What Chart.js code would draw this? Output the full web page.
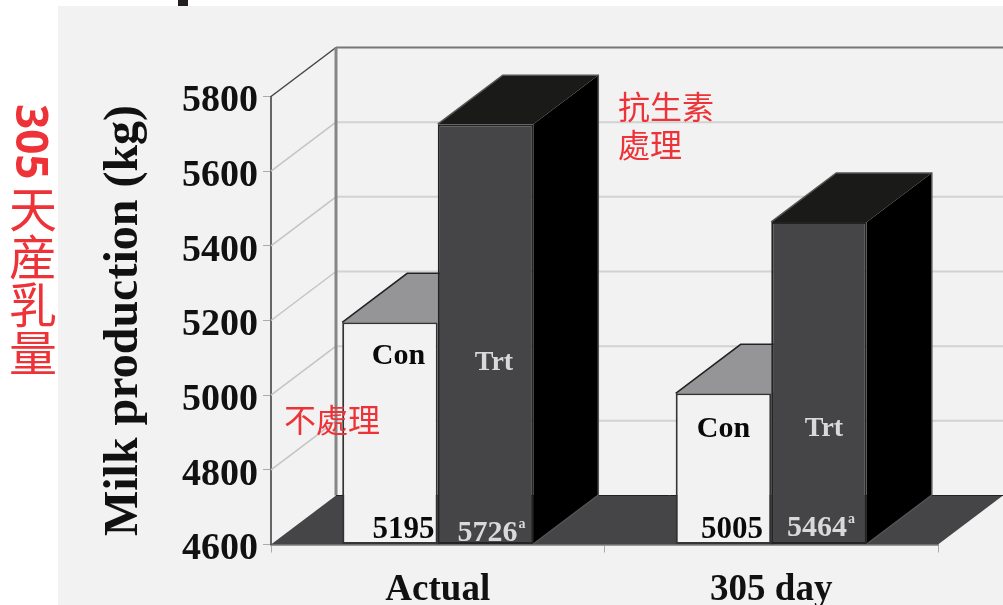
<!DOCTYPE html>
<html>
<head>
<meta charset="utf-8">
<title>Milk production</title>
<script src="https://cdn.jsdelivr.net/npm/chart.js@4"></script>
<style>
    body { margin: 0; background: #fff; overflow: hidden; }
    #panel { position: absolute; left: 58px; top: 6px; right: 0; bottom: 0; background: #f2f2f2; }
    #stub { position: absolute; left: 178px; top: 0; width: 10px; height: 6px; background: #231f20; }
    #myChart { position: absolute; left: 0; top: 0; }
    .note { position: absolute; color: #ee3338; font-family: "Noto Sans CJK TC", sans-serif; font-size: 32px; line-height: 38px; white-space: nowrap; }
    #side-note { left: 9px; top: 104px; font-size: 48px; line-height: 48px; writing-mode: vertical-rl; }
    #side-note b { font-family: "Noto Sans", sans-serif; font-size: 44px; margin-bottom: 5px; display: inline-block; }
</style>
</head>
<body>
<div id="panel"></div>
<div id="stub"></div>
<canvas id="myChart" width="1003" height="605"></canvas>
<div class="note" id="side-note"><b>305</b>天産乳量</div>
<div class="note" style="left:618px;top:86px">抗生素<br>處理</div>
<div class="note" style="left:284px;top:399px">不處理</div>
<script>
const categories = ["Actual", "305 day"];
const conValues = [5195, 5005];
const trtValues = [5726, 5464];
const yTickValues = [4600, 4800, 5000, 5200, 5400, 5600, 5800];
const yTitle = "Milk production (kg)";
const barNames = ["Con", "Trt"];

// how far the back of the box sits from the front
const depthX = 65;
const depthY = -49;

const serif = "'Liberation Serif', serif";

function line(ctx, points, color, width) {
    ctx.beginPath();
    points.forEach((p, i) => i ? ctx.lineTo(p[0], p[1]) : ctx.moveTo(p[0], p[1]));
    ctx.strokeStyle = color;
    ctx.lineWidth = width;
    ctx.stroke();
}

function poly(ctx, points, color) {
    ctx.beginPath();
    points.forEach((p, i) => i ? ctx.lineTo(p[0], p[1]) : ctx.moveTo(p[0], p[1]));
    ctx.closePath();
    ctx.fillStyle = color;
    ctx.fill();
}

function drawBox(ctx, bar, topColor, sideColor, edgeColor) {
    const l = bar.x - bar.width / 2, r = bar.x + bar.width / 2;
    poly(ctx, [[r, bar.base], [r + depthX, bar.base + depthY], [r + depthX, bar.y + depthY], [r, bar.y]], sideColor);
    poly(ctx, [[l, bar.y], [l + depthX, bar.y + depthY], [r + depthX, bar.y + depthY], [r, bar.y]], topColor);
    line(ctx, [[l, bar.y], [l + depthX, bar.y + depthY], [r + depthX, bar.y + depthY], [r + depthX, bar.base + depthY], [r, bar.base]], edgeColor, 1.5);
}

// walls, floor and the sides of the bars go under the bar fronts
const walls = {
    id: "walls",
    beforeDatasetsDraw(chart) {
        const ctx = chart.ctx;
        const area = chart.chartArea;
        const y = chart.scales.y;
        ctx.save();
        yTickValues.forEach(v => {
            const py = y.getPixelForValue(v);
            if (v === y.min) return;
            const top = v === y.max;
            line(ctx, [[area.left, py], [area.left + depthX, py + depthY]], top ? "#444" : "#c4c4c4", 1.5);
            line(ctx, [[area.left + depthX, py + depthY], [area.right + depthX, py + depthY]], top ? "#777" : "#d2d2d2", 2);
        });
        line(ctx, [[area.left + depthX, area.top + depthY], [area.left + depthX, area.bottom + depthY]], "#858585", 3);
        poly(ctx, [[area.left, area.bottom], [area.left + depthX, area.bottom + depthY], [area.right + depthX, area.bottom + depthY], [area.right, area.bottom]], "#454547");
        line(ctx, [[area.left + depthX, area.bottom + depthY], [area.right + depthX, area.bottom + depthY]], "#222", 1);

        const con = chart.getDatasetMeta(0).data;
        const trt = chart.getDatasetMeta(1).data;
        con.forEach((bar, i) => {
            drawBox(ctx, bar, "#959598", "#6a6a6c", "#222");
            drawBox(ctx, trt[i], "#1a1a18", "#000", "#555");
        });
        ctx.restore();
    },
    afterDatasetsDraw(chart) {
        const ctx = chart.ctx;
        const bottom = chart.chartArea.bottom;
        const con = chart.getDatasetMeta(0).data;
        const trt = chart.getDatasetMeta(1).data;
        // label offsets from the bar centre and the axis line
        const conName = [[8.5, -181], [0, -108]];
        const trtName = [[8.5, -175], [5, -109]];
        const conNum = [[13.5, -7], [8.5, -7]];
        const trtNum = [[2, -4], [-2, -9]];
        ctx.save();
        ctx.textAlign = "center";
        ctx.textBaseline = "alphabetic";
        categories.forEach((c, i) => {
            ctx.fillStyle = "#0a0a0a";
            ctx.font = "bold 30px " + serif;
            ctx.fillText(barNames[0], con[i].x + conName[i][0], bottom + conName[i][1]);
            ctx.font = "bold 31px " + serif;
            ctx.fillText(String(conValues[i]), con[i].x + conNum[i][0], bottom + conNum[i][1]);

            ctx.fillStyle = "#d9d9d9";
            ctx.font = "bold 28px " + serif;
            ctx.fillText(barNames[1], trt[i].x + trtName[i][0], bottom + trtName[i][1]);
            ctx.font = "bold 30px " + serif;
            const num = String(trtValues[i]);
            const nx = trt[i].x + trtNum[i][0];
            const ny = bottom + trtNum[i][1];
            const numWidth = ctx.measureText(num).width;
            ctx.fillText(num, nx, ny);
            ctx.font = "bold 14px " + serif;
            ctx.textAlign = "left";
            ctx.fillText("a", nx + numWidth / 2 + 1, ny - 13);
            ctx.textAlign = "center";
        });
        ctx.restore();
    }
};

const ctx = document.getElementById("myChart").getContext("2d");
const myChart = new Chart(ctx, {
    type: "bar",
    plugins: [walls],
    data: {
        labels: categories,
        datasets: [{
            label: barNames[0],
            data: conValues,
            backgroundColor: "#f2f2f2",
            borderColor: "#333",
            borderWidth: 2,
            borderSkipped: false
        }, {
            label: barNames[1],
            data: trtValues,
            backgroundColor: "#454547",
            borderColor: "#222",
            borderWidth: 2,
            borderSkipped: false
        }]
    },
    options: {
        responsive: false,
        animation: false,
        devicePixelRatio: 1,
        layout: { padding: { top: 96.5, right: 65, left: 0, bottom: 0 } },
        datasets: {
            bar: { categoryPercentage: 0.573, barPercentage: 1, base: yTickValues[0] }
        },
        plugins: { legend: { display: false }, tooltip: { enabled: false } },
        scales: {
            x: {
                afterFit(scale) { scale.height = 60.5; },
                grid: { drawOnChartArea: false, tickLength: 8, tickColor: "#aaa", offset: true },
                border: { color: "#999", width: 2 },
                ticks: { color: "#111", padding: 16, maxRotation: 0, font: { family: serif, weight: "bold", size: 37 } }
            },
            y: {
                min: yTickValues[0],
                max: yTickValues[yTickValues.length - 1],
                afterFit(scale) { scale.width = 271; },
                afterBuildTicks(scale) { scale.ticks = yTickValues.map(v => ({ value: v })); },
                grid: { drawOnChartArea: false, tickLength: 8, tickColor: "#aaa" },
                border: { color: "#666", width: 2 },
                ticks: {
                    color: "#111",
                    padding: 5,
                    labelOffset: 5,
                    font: { family: serif, weight: "bold", size: 38 },
                    callback: v => String(v)
                },
                title: {
                    display: true,
                    text: yTitle,
                    color: "#111",
                    padding: { top: 96, bottom: 0 },
                    font: { family: serif, weight: "bold", size: 48 }
                }
            }
        }
    }
});
</script>
</body>
</html>
